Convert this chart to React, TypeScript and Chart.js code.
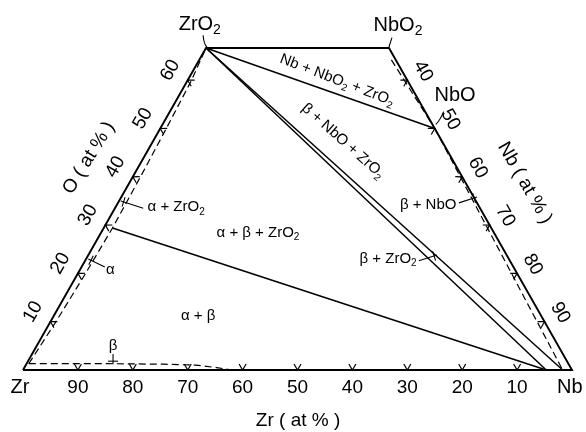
import React, { useEffect, useRef } from "react";
import { Chart, registerables } from "chart.js";
Chart.register(...registerables);

type Pt = [number, number]; // [Nb at%, O at%]

// ---- data (ternary compositions: [Nb at%, O at%]) ----
const outline: Pt[] = [[0, 0], [0, 66.67], [33.33, 66.67], [100, 0], [0, 0]];
const tieZrO2NbO: Pt[] = [[0, 66.67], [50, 50]];
const tieZrO2Beta1: Pt[] = [[0, 66.67], [95.3, 0]];
const tieZrO2Beta2: Pt[] = [[0, 66.67], [98.3, 0]];
const tieAlphaBeta1: Pt[] = [[1.6, 29.4], [95.3, 0]];
const alphaBoundary: Pt[] = [[0.4, 1.3], [1.0, 10], [1.4, 20], [1.6, 29.4], [1.4, 40], [1.1, 50], [0.7, 60], [0, 66.67]];
const betaBoundary: Pt[] = [[0.4, 1.3], [15, 1.3], [25, 1.2], [31, 1.0], [35, 0.5], [38, 0]];
const nboBetaBoundary: Pt[] = [[50, 50], [98.3, 0]];
const nbo2Boundary: Pt[] = [[35, 64.2], [50, 50]];

const bottomTicks = [10, 20, 30, 40, 50, 60, 70, 80, 90]; // Nb at% on Zr-Nb side
const bottomTickLabels = ["90", "80", "70", "60", "50", "40", "30", "20", "10"];
const leftTicks = [10, 20, 30, 40, 50, 60]; // O at% on Zr-O side
const leftTickLabels = ["10", "20", "30", "40", "50", "60"];
const rightTicks = [40, 50, 60, 70, 80, 90]; // Nb at% on Nb-O side
const rightTickLabels = ["40", "50", "60", "70", "80", "90"];

// label anchors in chart coordinates (x = Nb + O/2, y = O)
const phaseLabels = [
  { text: "\u03b1 + \u03b2 + ZrO_2", x: 42.8, y: 28.4, rot: 0, size: 15 },
  { text: "\u03b1 + \u03b2", x: 31.9, y: 11.2, rot: 0, size: 15 },
  { text: "\u03b1 + ZrO_2", x: 27.9, y: 33.7, rot: 0, size: 15 },
  { text: "\u03b1", x: 15.9, y: 20.7, rot: 0, size: 15 },
  { text: "\u03b2", x: 16.4, y: 5.0, rot: 0, size: 15 },
  { text: "\u03b2 + NbO", x: 73.8, y: 34.2, rot: 0, size: 15 },
  { text: "\u03b2 + ZrO_2", x: 66.5, y: 23.0, rot: 0, size: 15 },
  { text: "\u03b2 + NbO + ZrO_2", x: 58.3, y: 47.4, rot: 41.7, size: 15 },
  { text: "Nb + NbO_2 + ZrO_2", x: 57.2, y: 60.0, rot: 21, size: 15 },
];
const compoundLabels = [
  { text: "ZrO_2", x: 32.2, y: 71.6 },
  { text: "NbO_2", x: 68.3, y: 71.4 },
  { text: "NbO", x: 78.7, y: 56.9 },
  { text: "Zr", x: -0.55, y: -3.7 },
  { text: "Nb", x: 99.6, y: -3.7 },
];
const axisLabels = [
  { text: "Zr ( at % )", x: 50.1, y: -10.6, rot: 0 },
  { text: "O ( at % )", x: 12.0, y: 43.9, rot: -58 },
  { text: "Nb ( at % )", x: 91.4, y: 38.7, rot: 60 },
];
// leader lines: [fromX, fromY, toX, toY, endBar]
const leaders: [number, number, number, number, boolean][] = [
  [21.9, 33.5, 17.8, 35.0, true],
  [14.9, 21.3, 11.9, 23.0, true],
  [16.4, 3.3, 16.4, 1.2, true],
  [79.4, 34.6, 82.7, 35.8, true],
  [72.1, 22.6, 75.4, 23.8, true],
];

const FONT = '"Liberation Sans", Arial, Helvetica, sans-serif';

const toXY = (p: Pt) => ({ x: p[0] + p[1] / 2, y: p[1] });

function drawRich(ctx: CanvasRenderingContext2D, text: string, x: number, y: number, size: number, rotDeg: number) {
  const parts: { t: string; sub: boolean }[] = [];
  const re = /_(\d)/g;
  let last = 0;
  let m: RegExpExecArray | null;
  while ((m = re.exec(text))) {
    if (m.index > last) parts.push({ t: text.slice(last, m.index), sub: false });
    parts.push({ t: m[1], sub: true });
    last = m.index + m[0].length;
  }
  if (last < text.length) parts.push({ t: text.slice(last), sub: false });
  const big = `${size}px ${FONT}`;
  const small = `${Math.round(size * 0.68)}px ${FONT}`;
  let w = 0;
  for (const p of parts) {
    ctx.font = p.sub ? small : big;
    w += ctx.measureText(p.t).width;
  }
  ctx.save();
  ctx.translate(x, y);
  ctx.rotate((rotDeg * Math.PI) / 180);
  ctx.textBaseline = "middle";
  ctx.textAlign = "left";
  ctx.fillStyle = "#000";
  let cx = -w / 2;
  for (const p of parts) {
    ctx.font = p.sub ? small : big;
    ctx.fillText(p.t, cx, p.sub ? size * 0.32 : 0);
    cx += ctx.measureText(p.t).width;
  }
  ctx.restore();
}

const annotPlugin = {
  id: "annot",
  afterDatasetsDraw(chart: any) {
    const ctx: CanvasRenderingContext2D = chart.ctx;
    const xs = chart.scales.x;
    const ys = chart.scales.y;
    const C = (X: number, Y: number) => [xs.getPixelForValue(X), ys.getPixelForValue(Y)];
    const P = (nb: number, o: number) => C(nb + o / 2, o);

    const zr = P(0, 0), zro2 = P(0, 66.67), nbo2 = P(33.33, 66.67), nb = P(100, 0);
    const unit = (a: number[], b: number[]) => {
      const dx = b[0] - a[0], dy = b[1] - a[1];
      const l = Math.hypot(dx, dy);
      return [dx / l, dy / l];
    };
    const tL = unit(zr, zro2);
    const inL = [-tL[1], tL[0]][0] > 0 ? [-tL[1], tL[0]] : [tL[1], -tL[0]];
    const tR = unit(nbo2, nb);
    const inR = [-tR[1], tR[0]][0] < 0 ? [-tR[1], tR[0]] : [tR[1], -tR[0]];

    ctx.save();
    ctx.strokeStyle = "#000";
    ctx.lineWidth = 1.2;
    const vee = (p: number[], n: number[], t: number[]) => {
      ctx.beginPath();
      ctx.moveTo(p[0] + n[0] * 6 - t[0] * 3.5, p[1] + n[1] * 6 - t[1] * 3.5);
      ctx.lineTo(p[0], p[1]);
      ctx.lineTo(p[0] + n[0] * 6 + t[0] * 3.5, p[1] + n[1] * 6 + t[1] * 3.5);
      ctx.stroke();
    };
    bottomTicks.forEach((v) => vee(P(v, 0), [0, -1], [1, 0]));
    leftTicks.forEach((v) => vee(P(0, v), inL, tL));
    rightTicks.forEach((v) => vee(P(v, 100 - v), inR, tR));

    bottomTicks.forEach((v, i) => {
      const p = P(v, 0);
      drawRich(ctx, bottomTickLabels[i], p[0], p[1] + 18, 19, 0);
    });
    const angL = (Math.atan2(tL[1], tL[0]) * 180) / Math.PI;
    leftTicks.forEach((v, i) => {
      const p = P(0, v);
      drawRich(ctx, leftTickLabels[i], p[0] - inL[0] * 20, p[1] - inL[1] * 20, 19, angL);
    });
    const angR = (Math.atan2(tR[1], tR[0]) * 180) / Math.PI;
    rightTicks.forEach((v, i) => {
      const p = P(v, 100 - v);
      drawRich(ctx, rightTickLabels[i], p[0] - inR[0] * 18, p[1] - inR[1] * 18, 19, angR);
    });

    ctx.lineWidth = 1.1;
    leaders.forEach(([x1, y1, x2, y2, bar]) => {
      const a = C(x1, y1), b = C(x2, y2);
      ctx.beginPath();
      ctx.moveTo(a[0], a[1]);
      ctx.lineTo(b[0], b[1]);
      ctx.stroke();
      if (bar) {
        const u = unit(a, b);
        ctx.beginPath();
        ctx.moveTo(b[0] - u[1] * 5 - u[0] * 3, b[1] + u[0] * 5 - u[1] * 3);
        ctx.lineTo(b[0] + u[1] * 5 - u[0] * 3, b[1] - u[0] * 5 - u[1] * 3);
        ctx.stroke();
      }
    });
    const zl = C(32.8, 69.3);
    ctx.beginPath();
    ctx.moveTo(zl[0], zl[1]);
    ctx.quadraticCurveTo(zl[0] + 1, zro2[1] - 3, zro2[0] + 1, zro2[1] - 1);
    ctx.stroke();
    const nl = C(67.2, 68.8);
    ctx.beginPath();
    ctx.moveTo(nl[0], nl[1]);
    ctx.lineTo(nbo2[0], nbo2[1] - 1);
    ctx.stroke();
    const nbo = P(50, 50);
    const ol = C(76.6, 53.5);
    ctx.beginPath();
    ctx.moveTo(ol[0], ol[1]);
    ctx.quadraticCurveTo(ol[0] - 3, ol[1] + 8, nbo[0] + 1, nbo[1] - 4);
    ctx.stroke();
    ctx.restore();

    phaseLabels.forEach((l) => {
      const p = C(l.x, l.y);
      drawRich(ctx, l.text, p[0], p[1], l.size, l.rot);
    });
    compoundLabels.forEach((l) => {
      const p = C(l.x, l.y);
      drawRich(ctx, l.text, p[0], p[1], 20, 0);
    });
    axisLabels.forEach((l) => {
      const p = C(l.x, l.y);
      drawRich(ctx, l.text, p[0], p[1], 19, l.rot);
    });
  },
};

function line(data: Pt[], width: number, dash: number[] = []) {
  return {
    data: data.map(toXY),
    showLine: true,
    borderColor: "#000",
    borderWidth: width,
    borderDash: dash,
    pointRadius: 0,
    fill: false,
    tension: 0,
  };
}

export default function App() {
  const ref = useRef<HTMLCanvasElement>(null);
  useEffect(() => {
    if (!ref.current) return;
    const chart = new Chart(ref.current, {
      type: "scatter",
      data: {
        datasets: [
          line(outline, 1.9),
          line(tieZrO2NbO, 1.5),
          line(tieZrO2Beta1, 1.5),
          line(tieZrO2Beta2, 1.5),
          line(tieAlphaBeta1, 1.5),
          line(alphaBoundary, 1.2, [7, 4]),
          line(betaBoundary, 1.2, [7, 4]),
          line(nboBetaBoundary, 1.2, [7, 4]),
          line(nbo2Boundary, 1.2, [7, 4]),
        ] as any,
      },
      options: {
        animation: false,
        responsive: false,
        devicePixelRatio: 1,
        layout: { padding: 0 },
        plugins: { legend: { display: false }, tooltip: { enabled: false }, title: { display: false } },
        scales: {
          x: { type: "linear", min: -4.19, max: 102.55, display: false },
          y: { type: "linear", min: -12.84, max: 76.6, display: false },
        },
      },
      plugins: [annotPlugin],
    });
    return () => chart.destroy();
  }, []);
  return (
    <div style={{ position: "absolute", left: 0, top: 0, width: 586, height: 432, background: "#fff" }}>
      <canvas ref={ref} width={586} height={432} style={{ display: "block" }} />
    </div>
  );
}
